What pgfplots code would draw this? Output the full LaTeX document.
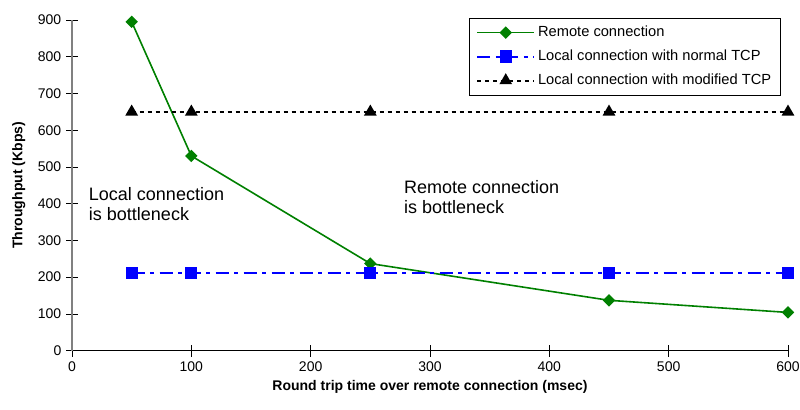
\documentclass[border=0pt]{standalone}
\usepackage{fontspec}
\setmainfont{Liberation Sans}
\usepackage{pgfplots}
\pgfplotsset{compat=1.18}

\definecolor{remgreen}{RGB}{0,128,0}

\begin{document}
\begin{tikzpicture}
\begin{axis}[
    scale only axis,
    width=537pt,
    height=248pt,
    xmin=0, xmax=600,
    ymin=0, ymax=900,
    xtick={0,100,...,600},
    ytick={0,100,...,900},
    axis x line=bottom,
    axis y line=left,
    axis line style={-},
    x axis line style={black, line width=0.8pt},
    y axis line style={gray, line width=1pt},
    tick align=center,
    major tick length=9pt,
    tick style={black, line width=0.6pt},
    ticklabel style={font=\fontsize{10.5}{12}\selectfont},
    /pgf/number format/assume math mode=true,
    xlabel={\textbf{Round trip time over remote connection (msec)}},
    ylabel={\textbf{Throughput (Kbps)}},
    label style={font=\fontsize{10.5}{12}\selectfont},
    xlabel style={at={(rel axis cs:0.5,0)}, anchor=center, yshift=-27pt},
    ylabel style={at={(rel axis cs:0,0.5)}, anchor=center, yshift=40pt},
    legend style={at={(0.99,1.006)}, anchor=north east, draw=black,
        font=\fontsize{11}{12}\selectfont, row sep=4.5pt,
        inner xsep=5pt, inner ysep=4pt},
    legend cell align=left,
    legend image code/.code={
        \draw[#1] (0pt,0pt) -- (43pt,0pt);
        \draw[#1, only marks] plot coordinates {(21.5pt,0pt)};
    },
    clip=false,
]
\addplot[remgreen, line width=1.2pt, mark=square*, mark size=2.7pt, mark options={solid, fill=remgreen, rotate=45}]
    coordinates {(50,895) (100,530) (250,237) (450,137) (600,104)};
\addlegendentry{Remote connection}
\addplot[blue, line width=1.5pt, dash pattern=on 10pt off 4pt on 3pt off 4pt, mark=square*, mark size=3.8pt, mark options={solid, fill=blue}]
    coordinates {(50,212) (100,212) (250,212) (450,212) (600,212)};
\addlegendentry{Local connection with normal TCP}
\addplot[black, line width=1.5pt, dash pattern=on 3pt off 3pt, mark=triangle*, mark size=4pt, mark options={solid, fill=black}]
    coordinates {(50,650) (100,650) (250,650) (450,650) (600,650)};
\addlegendentry{Local connection with modified TCP}
\node[anchor=north west, align=left, inner sep=0pt, font=\fontsize{13.5}{15}\selectfont]
    at (axis cs:14,445) {Local connection\\is bottleneck};
\node[anchor=north west, align=left, inner sep=0pt, font=\fontsize{13.5}{15}\selectfont]
    at (axis cs:278,464) {Remote connection\\is bottleneck};
\coordinate (ll) at (rel axis cs:0,0);
\coordinate (ur) at (rel axis cs:1,1);
\end{axis}
\pgfresetboundingbox
\path ([shift={(-54pt,-44pt)}]ll) rectangle ([shift={(9pt,15pt)}]ur);
\end{tikzpicture}
\end{document}
